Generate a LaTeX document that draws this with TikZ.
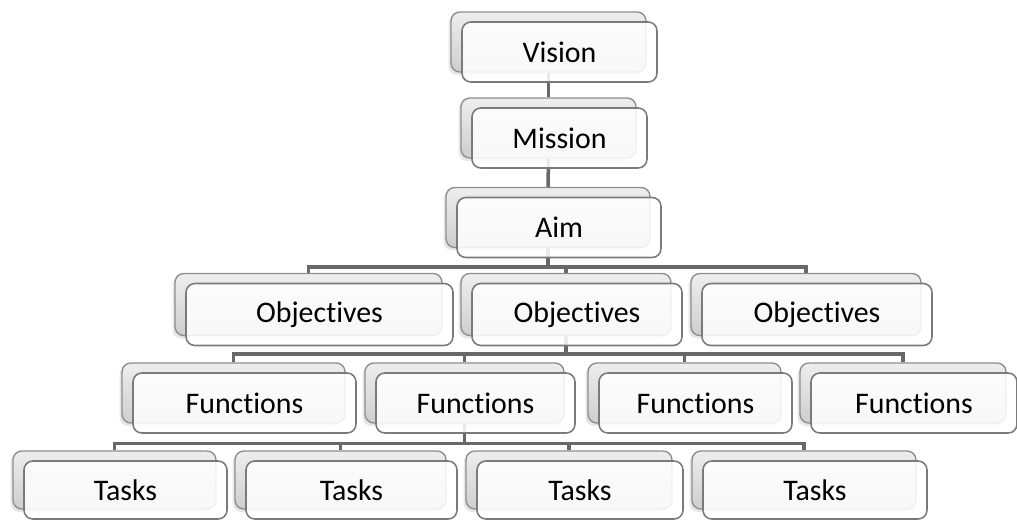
\documentclass[tikz,border=0pt]{standalone}
\usepackage{fontspec}
\setmainfont{Carlito}[Ligatures=CommonOff]
\usetikzlibrary{backgrounds, shadows}
\definecolor{edge}{RGB}{122,122,122}
\definecolor{wire}{RGB}{104,104,104}
\definecolor{cardtop}{RGB}{238,238,238}
\definecolor{cardbottom}{RGB}{206,206,206}

\begin{document}
\begin{tikzpicture}[
  x=0.02cm, y=-0.02cm,
  back/.style={rectangle, rounded corners=5pt, draw=edge!85, line width=0.8pt,
    top color=cardtop, bottom color=cardbottom, minimum width=#1, minimum height=1.2cm, inner sep=0pt,
    drop shadow={shadow xshift=-0.05cm, shadow yshift=-0.06cm, opacity=0.2}},
  card/.style={rectangle, rounded corners=5pt, draw=edge, line width=0.9pt,
    fill=white, fill opacity=0.86, text opacity=1,
    minimum width=#1, minimum height=1.2cm, inner sep=0pt, xshift=0.22cm, yshift=-0.2cm,
    font=\fontsize{17}{20}\selectfont},
  conn/.style={draw=wire, line width=2pt}
]
\useasboundingbox (0,0) rectangle (1017,521);

% Top of the chain
\node[back=3.9cm] (vis-b) at (548.5,42) {};
\node[card=3.9cm] (vis) at (vis-b) {Vision};
\node[back=3.5cm] (mis-b) at (548.5,128) {};
\node[card=3.5cm] (mis) at (mis-b) {Mission};
\node[back=4.08cm] (aim-b) at (548,217.5) {};
\node[card=4.08cm] (aim) at (aim-b) {Aim};

% Objectives
\node[back=5.34cm, minimum height=1.24cm] (obj1-b) at (308.5,304.5) {};
\node[card=5.34cm, minimum height=1.24cm] (obj1) at (obj1-b) {Objectives};
\node[back=4.2cm, minimum height=1.24cm] (obj2-b) at (566,304.5) {};
\node[card=4.2cm, minimum height=1.24cm] (obj2) at (obj2-b) {Objectives};
\node[back=4.6cm, minimum height=1.24cm] (obj3-b) at (806,304.5) {};
\node[card=4.6cm, minimum height=1.24cm] (obj3) at (obj3-b) {Objectives};

% Functions
\node[back=4.46cm] (fun1-b) at (233.5,393) {};
\node[card=4.46cm] (fun1) at (fun1-b) {Functions};
\node[back=3.98cm] (fun2-b) at (464.5,393) {};
\node[card=3.98cm] (fun2) at (fun2-b) {Functions};
\node[back=3.86cm] (fun3-b) at (684.5,393) {};
\node[card=3.86cm] (fun3) at (fun3-b) {Functions};
\node[back=4.12cm] (fun4-b) at (903,393) {};
\node[card=4.12cm] (fun4) at (fun4-b) {Functions};

% Tasks
\node[back=4.06cm, minimum height=1.16cm] (tsk1-b) at (114.5,480) {};
\node[card=4.06cm, minimum height=1.16cm] (tsk1) at (tsk1-b) {Tasks};
\node[back=4.22cm, minimum height=1.16cm] (tsk2-b) at (340.5,480) {};
\node[card=4.22cm, minimum height=1.16cm] (tsk2) at (tsk2-b) {Tasks};
\node[back=4.12cm, minimum height=1.16cm] (tsk3-b) at (569,480) {};
\node[card=4.12cm, minimum height=1.16cm] (tsk3) at (tsk3-b) {Tasks};
\node[back=4.48cm, minimum height=1.16cm] (tsk4-b) at (804,480) {};
\node[card=4.48cm, minimum height=1.16cm] (tsk4) at (tsk4-b) {Tasks};

% Connectors, kept behind the cards
\begin{scope}[on background layer]
\draw[conn] (vis-b.south) -- (mis-b.north);
\draw[conn] (mis-b.south) -- (aim-b.north);

\draw[conn] (aim-b.south) -- ++(0,19) -| (obj1-b.north);
\draw[conn] (aim-b.south) -- ++(0,19) -| (obj2-b.north);
\draw[conn] (aim-b.south) -- ++(0,19) -| (obj3-b.north);

\draw[conn] (obj2-b.south) -- ++(0,18) -| (fun1-b.north);
\draw[conn] (obj2-b.south) -- ++(0,18) -| (fun2-b.north);
\draw[conn] (obj2-b.south) -- ++(0,18) -| (fun3-b.north);
\draw[conn] (obj2-b.south) -- ++(0,18) -| (fun4-b.north);

\draw[conn] (fun2-b.south) -- ++(0,20) -| (tsk1-b.north);
\draw[conn] (fun2-b.south) -- ++(0,20) -| (tsk2-b.north);
\draw[conn] (fun2-b.south) -- ++(0,20) -| (tsk3-b.north);
\draw[conn] (fun2-b.south) -- ++(0,20) -| (tsk4-b.north);
\end{scope}
\end{tikzpicture}
\end{document}
